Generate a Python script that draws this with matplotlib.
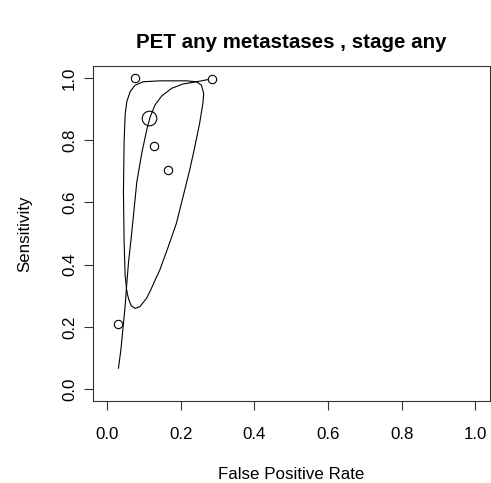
import matplotlib
matplotlib.use('Agg')
import matplotlib.pyplot as plt
import numpy as np

plt.rcParams['font.family'] = ['Liberation Sans', 'DejaVu Sans']

# study estimates (FPR, sensitivity)
study_fpr = [0.076, 0.284, 0.128, 0.164, 0.030]
study_sens = [1.000, 0.998, 0.781, 0.704, 0.209]

# summary estimate
summary_fpr = [0.114]
summary_sens = [0.870]

# SROC curve
sroc_fpr = [0.0305, 0.037, 0.0424, 0.0486, 0.0532, 0.0576, 0.0668, 0.0803,
            0.0938, 0.1073, 0.1162, 0.1297, 0.1478, 0.1749, 0.2062, 0.2424, 0.2784]
sroc_sens = [0.067, 0.125, 0.190, 0.265, 0.340, 0.404, 0.505, 0.665,
             0.758, 0.833, 0.873, 0.913, 0.942, 0.967, 0.981, 0.988, 0.996]

# confidence region outline
region_fpr = [0.0532, 0.0486, 0.0459, 0.0441, 0.0459, 0.0486, 0.0532, 0.0622,
              0.0757, 0.0980, 0.1430, 0.2154, 0.2424, 0.2560, 0.2620, 0.2600,
              0.2510, 0.2380, 0.2240, 0.2060, 0.1880, 0.1660, 0.1430, 0.1300,
              0.1180, 0.1070, 0.0890, 0.0757, 0.0650, 0.0580, 0.0532]
region_sens = [0.313, 0.367, 0.474, 0.634, 0.795, 0.881, 0.924, 0.956,
               0.977, 0.988, 0.991, 0.991, 0.988, 0.977, 0.951, 0.919,
               0.854, 0.779, 0.704, 0.618, 0.533, 0.458, 0.383, 0.350,
               0.318, 0.292, 0.265, 0.259, 0.268, 0.290, 0.313]

ticks = [0.0, 0.2, 0.4, 0.6, 0.8, 1.0]

fig = plt.figure(figsize=(4.91, 4.83), dpi=100)
ax = fig.add_axes([92.5 / 491, 81.6 / 483, 397.5 / 491, 335.8 / 483])

ax.plot(sroc_fpr, sroc_sens, color='black', lw=0.8)
ax.plot(region_fpr, region_sens, color='black', lw=0.8)
ax.plot(study_fpr, study_sens, 'o', mfc='white', mec='black', mew=0.8, ms=6)
ax.plot(summary_fpr, summary_sens, 'o', mfc='none', mec='black', mew=0.8, ms=10.5)

ax.set_xlim(-0.04, 1.04)
ax.set_ylim(-0.04, 1.04)
ax.set_xticks(ticks)
ax.set_yticks(ticks)
ax.set_xticklabels(['%.1f' % t for t in ticks])
ax.set_yticklabels(['%.1f' % t for t in ticks], rotation=90, va='center')
ax.tick_params(axis='both', direction='out', length=6.5, width=0.8,
               labelsize=12.2, color='#333333')
ax.tick_params(axis='x', pad=12)
ax.tick_params(axis='y', pad=4.5)
for s in ax.spines.values():
    s.set_linewidth(0.8)
    s.set_color('#333333')

ax.set_xlabel('False Positive Rate', fontsize=12.2, labelpad=18)
ax.set_ylabel('Sensitivity', fontsize=12.2, labelpad=21.5)
fig.text(291 / 491, 1 - 42 / 483, 'PET any metastases , stage any',
         ha='center', va='center', fontsize=14.8, fontweight='bold')

fig.savefig('out.png', dpi=100)
